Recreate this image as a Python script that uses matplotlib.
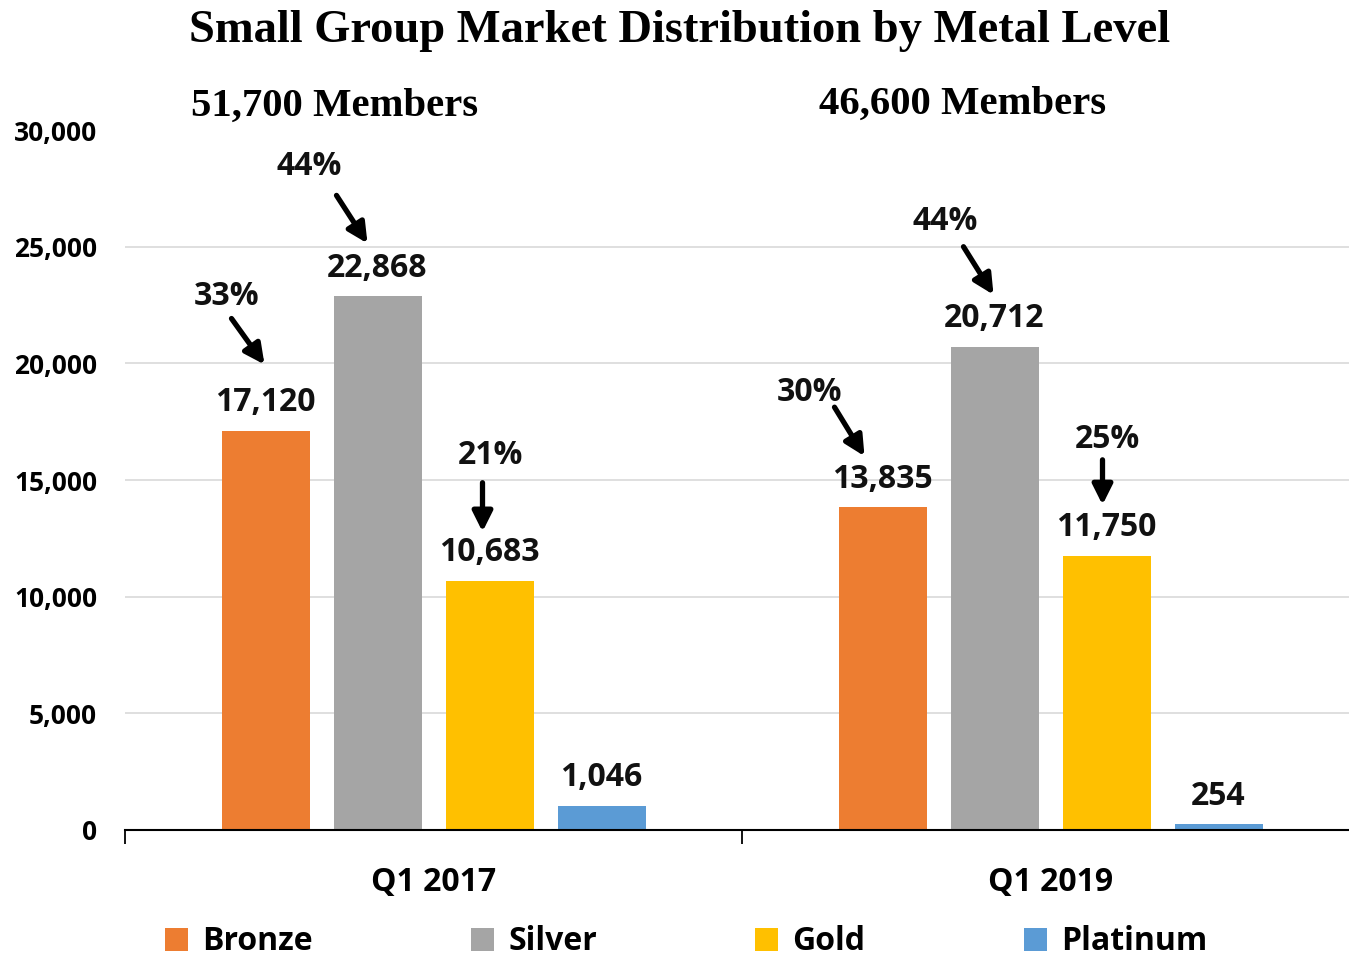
import matplotlib
matplotlib.use("Agg")
import matplotlib.pyplot as plt
from matplotlib.patches import Patch
from matplotlib.transforms import offset_copy
import numpy as np

# ---- data ----
categories = ["Q1 2017", "Q1 2019"]
metals = ["Bronze", "Silver", "Gold", "Platinum"]
bronze = [17120, 13835]
silver = [22868, 20712]
gold = [10683, 11750]
platinum = [1046, 254]
members = ["51,700 Members", "46,600 Members"]
# percentage callouts: (group index, metal index, label)
pct_labels = [(0, 0, "33%"), (0, 1, "44%"), (0, 2, "21%"),
              (1, 0, "30%"), (1, 1, "44%"), (1, 2, "25%")]
yticks = [0, 5000, 10000, 15000, 20000, 25000, 30000]

colors = ["#ED7D31", "#A5A5A5", "#FFC000", "#5B9BD5"]
sans = ["Open Sans", "DejaVu Sans"]
serif = ["Liberation Serif", "DejaVu Serif"]

fig = plt.figure(figsize=(13.49, 9.56), dpi=100)
ax = fig.add_axes([125/1349, 126/956, 1 - 125/1349, 700/956])

series = [bronze, silver, gold, platinum]
group_px = 617.0
step = 112 / group_px
width = 88 / group_px
x = np.arange(len(categories))
bars = []
for i, (vals, c) in enumerate(zip(series, colors)):
    b = ax.bar(x + (i - 1.5) * step, vals, width, color=c, label=metals[i], zorder=3)
    bars.append(b)
    for rect, v in zip(b, vals):
        ax.annotate(f"{v:,}", (rect.get_x() + rect.get_width() / 2, v),
                    xytext=(0, 28), textcoords="offset pixels",
                    ha="center", va="center", fontsize=23, fontweight="bold",
                    family=sans, color="#111111")

# offsets (pixels) relative to bar top center: text, arrow tail, arrow head
pct_offsets = {
    (0, 0): ((-39, 134), (-34, 112), (-1, 66)),
    (0, 1): ((-68, 130), (-41, 101), (-10, 53)),
    (0, 2): ((1, 125), (-7, 98), (-7, 49)),
    (1, 0): ((-73, 115), (-48, 100), (-18, 51)),
    (1, 1): ((-49, 125), (-31, 100), (-1, 52)),
    (1, 2): ((1, 116), (-4, 96), (-4, 51)),
}
for g, m, lab in pct_labels:
    rect = bars[m][g]
    xc = rect.get_x() + rect.get_width() / 2
    yv = series[m][g]
    (tdx, tdy), (adx, ady), (hdx, hdy) = pct_offsets[(g, m)]
    ax.annotate(lab, (xc, yv), xytext=(tdx, tdy), textcoords="offset pixels",
                ha="center", va="center", fontsize=23, fontweight="bold",
                family=sans, color="#111111")
    head_tr = offset_copy(ax.transData, fig=fig, x=hdx, y=hdy, units="dots")
    ax.annotate("", xy=(xc, yv), xycoords=head_tr,
                xytext=(adx - hdx, ady - hdy), textcoords="offset pixels",
                arrowprops=dict(arrowstyle="-|>", color="black", lw=3.8,
                                mutation_scale=30, shrinkA=0, shrinkB=0))

ax.set_yticks(yticks)
ax.set_yticklabels([f"{v:,}" for v in yticks], fontsize=19, fontweight="bold", family=sans)
ax.tick_params(axis="y", length=0, pad=20)
ax.set_xticks(x)
ax.set_xticklabels(categories, fontsize=23, fontweight="bold", family=sans)
ax.set_xticks([-0.5, 0.5], minor=True)
ax.tick_params(axis="x", which="major", length=0, pad=26)
ax.tick_params(axis="x", which="minor", length=10, width=1.3, color="black")
ax.set_xlim(-0.5, -0.5 + (1349 - 125) / group_px)
ax.set_ylim(0, 30000)
ax.grid(axis="y", color="#d9d9d9", lw=1.2, zorder=0)
ax.set_axisbelow(True)
ax.get_ygridlines()[-1].set_visible(False)
ax.get_ygridlines()[0].set_visible(False)
for s in ["top", "right", "left"]:
    ax.spines[s].set_visible(False)
ax.spines["bottom"].set_linewidth(1.5)
ax.spines["bottom"].set_zorder(4)

fig.text(680/1349, 1 - 31/956, "Small Group Market Distribution by Metal Level",
         ha="center", va="center", fontsize=33.5, fontweight="bold", family=serif)
for xc, yc, t in zip([335, 963], [106, 104], members):
    fig.text(xc/1349, 1 - yc/956, t, ha="center", va="center",
             fontsize=29.3, fontweight="bold", family=serif)

handles = [Patch(facecolor=c, label=m) for c, m in zip(colors, metals)]
fig.legend(handles=handles, loc="center", bbox_to_anchor=(686/1349, 1 - 942/956),
           ncol=4, frameon=False, prop=dict(family=sans, weight="bold", size=23),
           handlelength=0.72, handleheight=0.72, handletextpad=0.45,
           columnspacing=4.95, borderpad=0.1)

fig.savefig("out.png", dpi=100)
